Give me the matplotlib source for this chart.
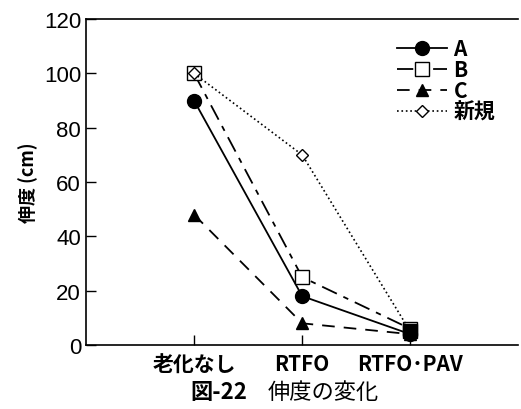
import matplotlib
matplotlib.use("Agg")
import matplotlib.pyplot as plt

plt.rcParams['font.family'] = ['Noto Sans CJK JP', 'DejaVu Sans']

# データ
categories = ['老化なし', 'RTFO', 'RTFO･PAV']
serie_a = [90, 18, 4]
serie_b = [100, 25, 6]
serie_c = [48, 8, 4]
serie_novo = [100, 70, 5]
nomes = ['A', 'B', 'C', '新規']

fig = plt.figure(figsize=(5.21, 4.10), dpi=100)
ax = fig.add_axes([0.165, 0.156, 0.83, 0.795])

x = [1, 2, 3]
ax.plot(x, serie_a, color='black', lw=1.3, marker='o', ms=10, label=nomes[0])
ax.plot(x, serie_b, color='black', lw=1.3, dashes=[9, 4, 3, 4], marker='s', ms=10,
        mfc='white', mec='black', label=nomes[1])
ax.plot(x, serie_c, color='black', lw=1.3, dashes=[7, 5], marker='^', ms=9, label=nomes[2])
ax.plot(x, serie_novo, color='black', lw=1.2, ls=':', marker='D', ms=6,
        mfc='white', mec='black', label=nomes[3])
# quadrado preenchido em RTFO-PAV
ax.plot([3], [5], marker='s', ms=10, color='black', ls='none')

ax.set_xlim(0, 4)
ax.set_ylim(0, 120)
ax.set_yticks(range(0, 121, 20))
ax.set_xticks(x)
ax.set_xticklabels(categories, fontsize=15, fontweight='bold')
for t in ax.get_yticklabels():
    t.set_fontsize(16)
    t.set_family('Liberation Sans')
ax.tick_params(direction='in', length=7, width=1)
ax.tick_params(axis='x', pad=6)
ax.spines['right'].set_visible(False)
for s in ['left', 'bottom', 'top']:
    ax.spines[s].set_linewidth(1.2)

ax.set_ylabel('伸度 (cm)', fontsize=13, fontweight='bold', labelpad=4)

leg = ax.legend(loc='upper right', bbox_to_anchor=(0.99, 1.0), frameon=False,
                prop={'size': 15, 'weight': 'bold'}, handlelength=2.4,
                labelspacing=0.0, handletextpad=0.3)

fig.text(0.365, 0.028, '図-22', ha='left', fontsize=16, fontweight='bold')
fig.text(0.514, 0.028, '伸度の変化', ha='left', fontsize=16)

fig.savefig('out.png', dpi=100)
